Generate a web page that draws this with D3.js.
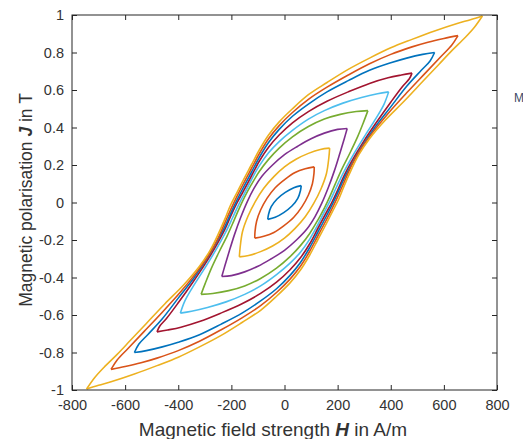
<!DOCTYPE html>
<html>
<head>
<meta charset="utf-8">
<script src="https://cdn.jsdelivr.net/npm/d3@7"></script>
<style>
  body { margin: 0; background: #fff; }
  svg { display: block; }
  .axis text { font-family: "Liberation Sans", Arial, sans-serif; font-size: 14.5px; fill: #333; }
  .axis line, .axis path { stroke: #262626; }
  .lbl { font-family: "Liberation Sans", Arial, sans-serif; fill: #333; }
</style>
</head>
<body>
<svg width="523" height="439"></svg>
<script>
// tick values and labels
var xTicks = [-800, -600, -400, -200, 0, 200, 400, 600, 800];
var xTickLabels = ["-800", "-600", "-400", "-200", "0", "200", "400", "600", "800"];
var yTicks = [-1, -0.8, -0.6, -0.4, -0.2, 0, 0.2, 0.4, 0.6, 0.8, 1];
var yTickLabels = ["-1", "-0.8", "-0.6", "-0.4", "-0.2", "0", "0.2", "0.4", "0.6", "0.8", "1"];

// hysteresis loops, [H in A/m, J in T]; "Down" = falling branch, "Up" = rising branch
var loop1Down = [[63,0.09],[35,0.079],[3,0.054],[-28,0.019],[-50,-0.022],[-60,-0.063],[-63,-0.09]];
var loop1Up   = [[-63,-0.09],[-35,-0.079],[-3,-0.054],[28,-0.019],[50,0.022],[60,0.063],[63,0.09]];

var loop2Down = [[112,0.19],[78,0.18],[40,0.16],[3,0.125],[-35,0.079],[-66,0.022],[-90,-0.04],[-105,-0.1],[-111,-0.155],[-112,-0.19]];
var loop2Up   = [[-112,-0.19],[-78,-0.18],[-40,-0.16],[-3,-0.125],[35,-0.079],[66,-0.022],[90,0.04],[105,0.1],[111,0.155],[112,0.19]];

var loop3Down = [[170,0.29],[135,0.283],[90,0.262],[45,0.232],[0,0.19],[-40,0.138],[-78,0.076],[-110,0.005],[-138,-0.075],[-158,-0.155],[-167,-0.24],[-170,-0.29]];
var loop3Up   = [[-170,-0.29],[-135,-0.283],[-90,-0.262],[-45,-0.232],[0,-0.19],[40,-0.138],[78,-0.076],[110,-0.005],[138,0.075],[158,0.155],[167,0.24],[170,0.29]];

var loop4Down = [[236,0.395],[200,0.39],[150,0.37],[100,0.34],[50,0.3],[0,0.255],[-45,0.2],[-85,0.14],[-115,0.075],[-140,0.005],[-165,-0.08],[-188,-0.17],[-208,-0.26],[-225,-0.34],[-236,-0.395]];
var loop4Up   = [[-236,-0.395],[-200,-0.39],[-150,-0.37],[-100,-0.34],[-50,-0.3],[0,-0.255],[45,-0.2],[85,-0.14],[115,-0.075],[140,-0.005],[165,0.08],[188,0.17],[208,0.26],[225,0.34],[236,0.395]];

var loop5Down = [[314,0.49],[270,0.485],[210,0.47],[150,0.445],[90,0.405],[30,0.35],[-20,0.29],[-60,0.23],[-95,0.165],[-125,0.095],[-150,0.03],[-170,-0.03],[-190,-0.095],[-215,-0.175],[-245,-0.26],[-275,-0.35],[-298,-0.43],[-314,-0.49]];
var loop5Up   = [[-314,-0.49],[-270,-0.485],[-210,-0.47],[-150,-0.445],[-90,-0.405],[-30,-0.35],[20,-0.29],[60,-0.23],[95,-0.165],[125,-0.095],[150,-0.03],[170,0.03],[190,0.095],[215,0.175],[245,0.26],[275,0.35],[298,0.43],[314,0.49]];

var loop6Down = [[392,0.59],[350,0.58],[290,0.56],[220,0.53],[150,0.49],[90,0.445],[30,0.385],[-20,0.325],[-60,0.265],[-95,0.195],[-125,0.12],[-150,0.05],[-172,-0.01],[-195,-0.08],[-222,-0.16],[-255,-0.245],[-300,-0.35],[-345,-0.45],[-375,-0.525],[-392,-0.59]];
var loop6Up   = [[-392,-0.59],[-350,-0.58],[-290,-0.56],[-220,-0.53],[-150,-0.49],[-90,-0.445],[-30,-0.385],[20,-0.325],[60,-0.265],[95,-0.195],[125,-0.12],[150,-0.05],[172,0.01],[195,0.08],[222,0.16],[255,0.245],[300,0.35],[345,0.45],[375,0.525],[392,0.59]];

var loop7Down = [[480,0.69],[440,0.68],[390,0.665],[320,0.635],[240,0.59],[160,0.54],[90,0.485],[30,0.425],[-20,0.36],[-60,0.295],[-95,0.22],[-125,0.14],[-155,0.06],[-178,0],[-200,-0.065],[-225,-0.145],[-255,-0.225],[-300,-0.33],[-345,-0.425],[-400,-0.535],[-445,-0.62],[-470,-0.66],[-480,-0.69]];
var loop7Up   = [[-480,-0.69],[-440,-0.68],[-390,-0.665],[-320,-0.635],[-240,-0.59],[-160,-0.54],[-90,-0.485],[-30,-0.425],[20,-0.36],[60,-0.295],[95,-0.22],[125,-0.14],[155,-0.06],[178,0],[200,0.065],[225,0.145],[255,0.225],[300,0.33],[345,0.425],[400,0.535],[445,0.62],[470,0.66],[480,0.69]];

var loop8Down = [[565,0.8],[520,0.79],[460,0.77],[400,0.745],[320,0.705],[240,0.65],[160,0.59],[90,0.525],[30,0.46],[-20,0.39],[-60,0.32],[-95,0.24],[-125,0.16],[-155,0.08],[-180,0.01],[-200,-0.05],[-225,-0.13],[-255,-0.21],[-290,-0.295],[-340,-0.4],[-400,-0.51],[-460,-0.62],[-515,-0.705],[-548,-0.755],[-565,-0.8]];
var loop8Up   = [[-565,-0.8],[-520,-0.79],[-460,-0.77],[-400,-0.745],[-320,-0.705],[-240,-0.65],[-160,-0.59],[-90,-0.525],[-30,-0.46],[20,-0.39],[60,-0.32],[95,-0.24],[125,-0.16],[155,-0.08],[180,-0.01],[200,0.05],[225,0.13],[255,0.21],[290,0.295],[340,0.4],[400,0.51],[460,0.62],[515,0.705],[548,0.755],[565,0.8]];

var loop9Down = [[653,0.89],[600,0.875],[540,0.855],[480,0.83],[400,0.79],[320,0.74],[240,0.68],[160,0.615],[90,0.55],[30,0.48],[-20,0.41],[-60,0.34],[-95,0.26],[-125,0.18],[-155,0.1],[-180,0.03],[-200,-0.03],[-225,-0.11],[-250,-0.19],[-285,-0.28],[-330,-0.37],[-390,-0.475],[-460,-0.585],[-530,-0.69],[-590,-0.78],[-630,-0.84],[-653,-0.89]];
var loop9Up   = [[-653,-0.89],[-600,-0.875],[-540,-0.855],[-480,-0.83],[-400,-0.79],[-320,-0.74],[-240,-0.68],[-160,-0.615],[-90,-0.55],[-30,-0.48],[20,-0.41],[60,-0.34],[95,-0.26],[125,-0.18],[155,-0.1],[180,-0.03],[200,0.03],[225,0.11],[250,0.19],[285,0.28],[330,0.37],[390,0.475],[460,0.585],[530,0.69],[590,0.78],[630,0.84],[653,0.89]];

var loop10Down = [[745,0.995],[700,0.975],[650,0.955],[565,0.915],[480,0.87],[400,0.825],[320,0.77],[240,0.71],[160,0.64],[90,0.575],[30,0.5],[-20,0.43],[-60,0.36],[-95,0.28],[-125,0.2],[-155,0.12],[-180,0.05],[-205,-0.02],[-225,-0.09],[-250,-0.17],[-280,-0.255],[-320,-0.34],[-380,-0.44],[-450,-0.54],[-520,-0.645],[-580,-0.735],[-630,-0.81],[-680,-0.88],[-715,-0.935],[-745,-0.995]];
var loop10Up   = [[-745,-0.995],[-700,-0.975],[-650,-0.955],[-565,-0.915],[-480,-0.87],[-400,-0.825],[-320,-0.77],[-240,-0.71],[-160,-0.64],[-90,-0.575],[-30,-0.5],[20,-0.43],[60,-0.36],[95,-0.28],[125,-0.2],[155,-0.12],[180,-0.05],[205,0.02],[225,0.09],[250,0.17],[280,0.255],[320,0.34],[380,0.44],[450,0.54],[520,0.645],[580,0.735],[630,0.81],[680,0.88],[715,0.935],[745,0.995]];

var loops = [
  [loop1Down, loop1Up], [loop2Down, loop2Up], [loop3Down, loop3Up], [loop4Down, loop4Up],
  [loop5Down, loop5Up], [loop6Down, loop6Up], [loop7Down, loop7Up], [loop8Down, loop8Up],
  [loop9Down, loop9Up], [loop10Down, loop10Up]
];

// MATLAB default colour order, cycling
var colors = ["#0072BD", "#D95319", "#EDB120", "#7E2F8E", "#77AC30", "#4DBEEE", "#A2142F",
              "#0072BD", "#D95319", "#EDB120"];

var svg = d3.select("svg"),
    pLeft = 72, pRight = 497, pTop = 15, pBottom = 390;

svg.append("rect").attr("width", 523).attr("height", 439).attr("fill", "#fff");

var x = d3.scaleLinear().domain([-800, 800]).range([pLeft, pRight]);
var y = d3.scaleLinear().domain([-1, 1]).range([pBottom, pTop]);

svg.append("clipPath").attr("id", "plotclip")
    .append("rect").attr("x", pLeft).attr("y", pTop).attr("width", pRight - pLeft).attr("height", pBottom - pTop);

var line = d3.line()
    .x(function(d) { return x(d[0]); })
    .y(function(d) { return y(d[1]); })
    .curve(d3.curveCatmullRom.alpha(0.5));

var plot = svg.append("g").attr("clip-path", "url(#plotclip)");
loops.forEach(function(branches, i) {
  branches.forEach(function(b) {
    plot.append("path")
        .attr("d", line(b))
        .attr("fill", "none")
        .attr("stroke", colors[i])
        .attr("stroke-width", 1.6)
        .attr("stroke-linejoin", "round");
  });
});

// axes, ticks pointing inwards like MATLAB
svg.append("g").attr("class", "axis")
    .attr("transform", "translate(0," + pBottom + ")")
    .call(d3.axisBottom(x).tickValues(xTicks).tickSize(-5).tickPadding(10)
        .tickFormat(function(d, i) { return xTickLabels[i]; }))
    .call(function(g) { g.select(".domain").remove(); });

svg.append("g").attr("class", "axis")
    .attr("transform", "translate(" + pLeft + ",0)")
    .call(d3.axisLeft(y).tickValues(yTicks).tickSize(-5).tickPadding(8)
        .tickFormat(function(d, i) { return yTickLabels[i]; }))
    .call(function(g) { g.select(".domain").remove(); });

svg.append("g").attr("class", "axis")
    .attr("transform", "translate(0," + pTop + ")")
    .call(d3.axisTop(x).tickValues(xTicks).tickSize(-5).tickFormat(""))
    .call(function(g) { g.select(".domain").remove(); });

svg.append("g").attr("class", "axis")
    .attr("transform", "translate(" + pRight + ",0)")
    .call(d3.axisRight(y).tickValues(yTicks).tickSize(-5).tickFormat(""))
    .call(function(g) { g.select(".domain").remove(); });

svg.append("rect")
    .attr("x", pLeft).attr("y", pTop).attr("width", pRight - pLeft).attr("height", pBottom - pTop)
    .attr("fill", "none").attr("stroke", "#262626").attr("stroke-width", 1);

// axis labels
var xl = svg.append("text").attr("class", "lbl").attr("font-size", 19)
    .attr("x", 273).attr("y", 436).attr("text-anchor", "middle");
xl.append("tspan").text("Magnetic field strength ");
xl.append("tspan").attr("font-weight", "bold").attr("font-style", "italic").text("H");
xl.append("tspan").text(" in A/m");

var yl = svg.append("text").attr("class", "lbl").attr("font-size", 17.5)
    .attr("transform", "translate(32,200) rotate(-90)").attr("text-anchor", "middle");
yl.append("tspan").text("Magnetic polarisation ");
yl.append("tspan").attr("font-weight", "bold").attr("font-style", "italic").text("J");
yl.append("tspan").text(" in T");

// clipped text at the right edge of the picture
svg.append("text").attr("x", 514).attr("y", 102)
    .attr("font-family", "Liberation Sans, Arial, sans-serif").attr("font-size", 12)
    .attr("fill", "#3b4a66").text("M");
</script>
</body>
</html>
